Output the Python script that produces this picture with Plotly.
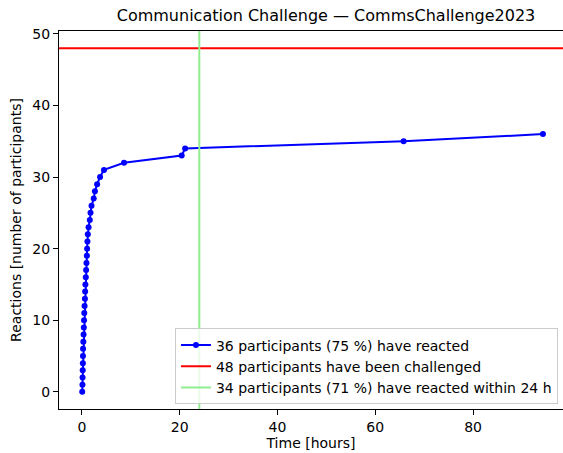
import plotly.graph_objects as go

# Data
hours = [0.05, 0.1, 0.12, 0.15, 0.18, 0.2, 0.22, 0.28, 0.33, 0.38, 0.42, 0.47,
         0.53, 0.6, 0.65, 0.7, 0.78, 0.85, 0.92, 1.0, 1.05, 1.12, 1.2, 1.35,
         1.6, 1.75, 1.95, 2.4, 2.65, 3.1, 3.7, 4.5, 8.6, 20.4, 21.1, 65.8, 94.3]
reactions = list(range(len(hours)))
challenged = 48
cutoff_hours = 24
reacted_total = 36
reacted_within = 34

x_range = [-4.7, 98.4]
y_range = [-2.4, 50.4]
x_ticks = [0, 20, 40, 60, 80]
y_ticks = [0, 10, 20, 30, 40, 50]

FONT = "DejaVu Sans"
W, H = 563, 453

fig = go.Figure()
fig.add_trace(go.Scatter(
    x=hours, y=reactions, mode="lines+markers",
    line=dict(color="#0000ff", width=2),
    marker=dict(color="#0000ff", size=6),
    name=f"{reacted_total} participants ({round(100*reacted_total/challenged)} %) have reacted",
    legendrank=1,
))
fig.add_shape(type="line", xref="paper", x0=0, x1=1, yref="y", y0=challenged, y1=challenged,
              line=dict(color="#ff0000", width=2), showlegend=True, legendrank=2,
              name=f"{challenged} participants have been challenged")
fig.add_shape(type="line", xref="x", x0=cutoff_hours, x1=cutoff_hours, yref="paper", y0=0, y1=1,
              line=dict(color="#90ee90", width=2), showlegend=True, legendrank=3,
              name=f"{reacted_within} participants ({round(100*reacted_within/challenged)} %) have reacted within {cutoff_hours} h")

axis_common = dict(
    showgrid=False, zeroline=False, showline=True, linecolor="black", linewidth=1,
    ticks="outside", ticklen=5, tickcolor="black", tickwidth=1, automargin=False,
    tickfont=dict(family=FONT, size=14, color="black"),
)
fig.update_xaxes(range=x_range, tickvals=x_ticks, mirror=True,
                 title=dict(text="Time [hours]", font=dict(family=FONT, size=14, color="black"), standoff=2),
                 **axis_common)
fig.update_yaxes(range=y_range, tickvals=y_ticks, mirror=False,
                 title=dict(text="Reactions [number of participants]", font=dict(family=FONT, size=14, color="black"), standoff=7),
                 **axis_common)

fig.update_layout(
    template="none",
    width=W, height=H,
    margin=dict(l=59, r=0, t=31, b=44),
    paper_bgcolor="white", plot_bgcolor="white",
    title=dict(text="Communication Challenge — CommsChallenge2023",
               x=326 / W, xref="container", xanchor="center",
               y=1 - 15 / H, yref="container", yanchor="middle",
               font=dict(family=FONT, size=16, color="black")),
    legend=dict(x=0.99, y=0.012, xanchor="right", yanchor="bottom",
                bgcolor="rgba(255,255,255,0.8)", bordercolor="#cccccc", borderwidth=1,
                font=dict(family=FONT, size=14, color="black"), tracegroupgap=0,
                itemwidth=30),
    showlegend=True,
)

fig.write_html("out.html", config={"displayModeBar": False},
               post_script="document.body.style.margin='0px';document.body.style.overflow='hidden';")
